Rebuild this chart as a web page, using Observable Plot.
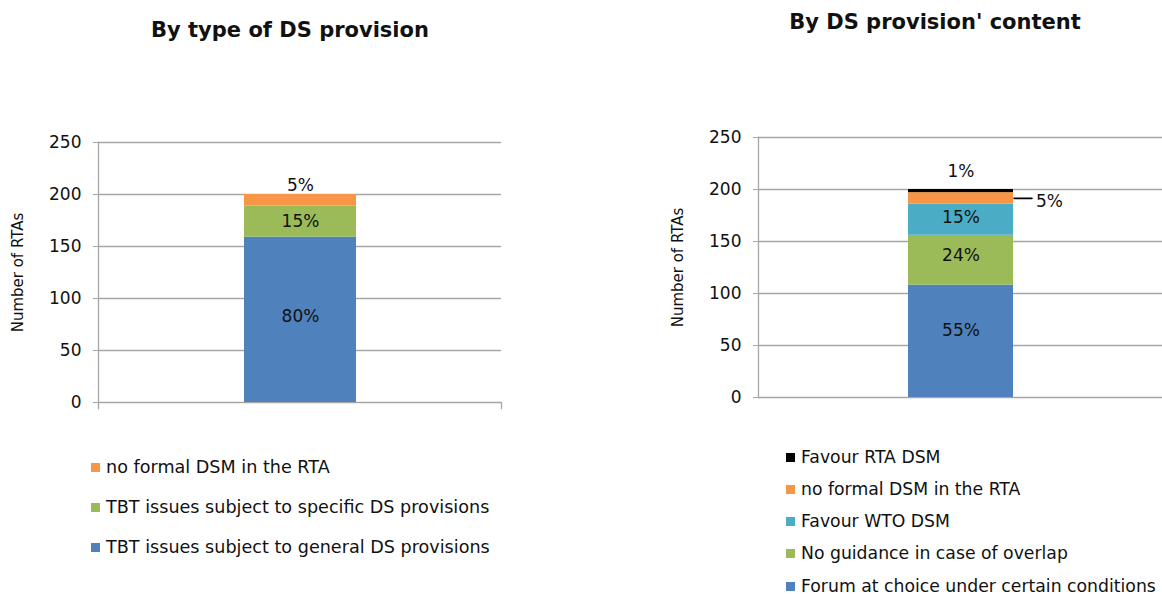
<!DOCTYPE html>
<html>
<head>
<meta charset="utf-8">
<script src="https://cdn.jsdelivr.net/npm/d3@7"></script>
<script src="https://cdn.jsdelivr.net/npm/@observablehq/plot@0.6"></script>
<style>
  html, body { margin: 0; padding: 0; background: #fff; }
  body { width: 1162px; height: 594px; position: relative; overflow: hidden; font-family: "DejaVu Sans", Verdana, sans-serif; color: #111; }
  .title { position: absolute; font-weight: bold; font-size: 21px; line-height: 24px; white-space: nowrap; transform: translate(-50%, -50%); }
  .chart { position: absolute; top: 0; }
  .legend { position: absolute; }
  .item { position: absolute; left: 0; white-space: nowrap; display: flex; align-items: center; transform: translateY(-50%); }
  .sw { width: 9px; height: 9px; margin-right: 6px; flex: none; }
</style>
</head>
<body>
<script>
// ---------- data ----------
const yAxisTitle = "Number of RTAs";
const yTicks = [0, 50, 100, 150, 200, 250];
const barGroup = "RTAs";

const leftTitle = "By type of DS provision";
const leftCategories = [
  "TBT issues subject to general DS provisions",
  "TBT issues subject to specific DS provisions",
  "no formal DSM in the RTA"
];
const leftValues = [159, 30, 11];
const leftLabels = ["80%", "15%", "5%"];
const leftColors = ["#4F81BD", "#9BBB59", "#F79646"];

const rightTitle = "By DS provision' content";
const rightCategories = [
  "Forum at choice under certain conditions",
  "No guidance in case of overlap",
  "Favour WTO DSM",
  "no formal DSM in the RTA",
  "Favour RTA DSM"
];
const rightValues = [108, 48, 30, 11, 3];
const rightLabels = ["55%", "24%", "15%", "5%", "1%"];
const rightColors = ["#4F81BD", "#9BBB59", "#4BACC6", "#F79646", "#000000"];

// ---------- helpers ----------
const GRID = "#a6a6a6";
const FONT = "DejaVu Sans";

function rows(cats, vals, labels) {
  return cats.map((c, i) => ({group: barGroup, category: c, value: vals[i], label: labels[i], idx: i}));
}

// label placement styles: [kind, dy] per segment; kind: "mid" inside, "top" above bar, "side" right with leader
function labelMarks(data, base, placement) {
  const out = [];
  placement.forEach(([kind, dy], i) => {
    const sel = d => d.idx === i;
    const common = {...base, text: "label", fontSize: 17, fill: "#111", dy};
    if (kind === "mid") {
      out.push(Plot.text(data, Plot.filter(sel, Plot.stackY(common))));
    } else if (kind === "top") {
      out.push(Plot.text(data, Plot.filter(sel, Plot.stackY2(common))));
    } else if (kind === "side") {
      out.push(Plot.vector(data, Plot.filter(sel, Plot.stackY({...base, rotate: 90, length: 18, anchor: "start", dx: 53, stroke: "#000", strokeWidth: 1.6,
        shape: {draw(ctx, l) { ctx.moveTo(0, 0); ctx.lineTo(0, -l); }}}))));
      out.push(Plot.text(data, Plot.filter(sel, Plot.stackY({...common, textAnchor: "start", dx: 75}))));
    }
  });
  return out;
}

function makeChart({cats, vals, labels, colors, width, height, ml, mr, mt, mb, padding, placement, axisExt}) {
  const data = rows(cats, vals, labels);
  const base = {x: "group", y: "value"};
  const plotH = height - mt - mb;
  const marks = [
    Plot.ruleY(yTicks, {stroke: GRID, strokeWidth: 1.3}),
    Plot.barY(data, Plot.stackY({...base, fill: "category"})),
    Plot.frame({anchor: "left", stroke: GRID, strokeWidth: 1.3, insetBottom: axisExt ? -6 : 0}),
    ...(axisExt ? [Plot.frame({anchor: "right", stroke: GRID, strokeWidth: 1.3, insetTop: plotH, insetBottom: -6})] : []),
    Plot.axisY({ticks: yTicks, tickSize: 5, tickPadding: 12, fontSize: 17, stroke: GRID, fill: "#111", label: null, tickFormat: d => String(d)}),
    Plot.text([yAxisTitle], {frameAnchor: "left", rotate: -90, dx: -80, textAnchor: "middle", fontSize: 15, fill: "#111", text: d => d}),
    ...labelMarks(data, base, placement)
  ];
  return Plot.plot({
    width, height,
    marginLeft: ml, marginRight: mr, marginTop: mt, marginBottom: mb,
    style: {fontFamily: FONT, background: "transparent", overflow: "visible"},
    x: {type: "band", domain: [barGroup], padding, axis: null},
    y: {domain: [0, 250], axis: null},
    color: {type: "ordinal", domain: cats, range: colors},
    marks
  });
}

function addTitle(text, cx, cy) {
  const d = document.createElement("div");
  d.className = "title";
  d.style.left = cx + "px";
  d.style.top = cy + "px";
  d.textContent = text;
  document.body.appendChild(d);
}

function addLegend(cats, colors, left, yCenters, fontSize) {
  const lg = document.createElement("div");
  lg.className = "legend";
  lg.style.left = left + "px";
  lg.style.top = "0px";
  lg.style.fontSize = fontSize + "px";
  const order = cats.map((c, i) => i).reverse();
  order.forEach((i, k) => {
    const it = document.createElement("div");
    it.className = "item";
    it.style.top = yCenters[k] + "px";
    const sw = document.createElement("span");
    sw.className = "sw";
    sw.style.background = colors[i];
    const tx = document.createElement("span");
    tx.textContent = cats[i];
    it.appendChild(sw); it.appendChild(tx);
    lg.appendChild(it);
  });
  document.body.appendChild(lg);
}

// ---------- left chart ----------
const leftChart = makeChart({
  cats: leftCategories, vals: leftValues, labels: leftLabels, colors: leftColors,
  width: 520, height: 420, ml: 98, mr: 19, mt: 142, mb: 18, padding: 0.565, axisExt: true,
  placement: [["mid", -3], ["mid", 0], ["top", -9]]
});
const lc = document.createElement("div");
lc.className = "chart"; lc.style.left = "0px";
lc.appendChild(leftChart);
document.body.appendChild(lc);

// ---------- right chart ----------
const rightChart = makeChart({
  cats: rightCategories, vals: rightValues, labels: rightLabels, colors: rightColors,
  width: 502, height: 420, ml: 98, mr: 0, mt: 137, mb: 23, padding: 0.587, axisExt: false,
  placement: [["mid", -11], ["mid", -5], ["mid", -2], ["side", 3], ["top", -18]]
});
const rc = document.createElement("div");
rc.className = "chart"; rc.style.left = "660px";
rc.appendChild(rightChart);
document.body.appendChild(rc);

// ---------- titles & legends ----------
addTitle(leftTitle, 290, 30);
addTitle(rightTitle, 935, 22);
addLegend(leftCategories, leftColors, 91, [467, 507, 547], 17.6);
addLegend(rightCategories, rightColors, 786, [457, 489, 521, 553, 586], 17.25);
</script>
</body>
</html>
